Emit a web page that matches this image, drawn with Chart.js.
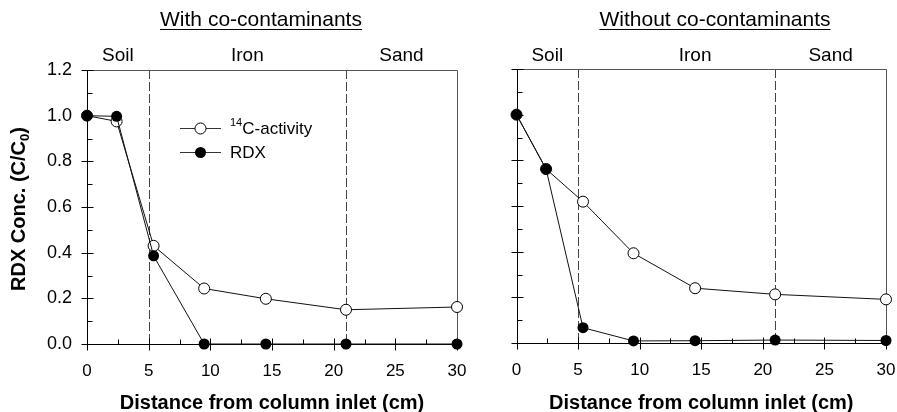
<!DOCTYPE html>
<html>
<head>
<meta charset="utf-8">
<script src="https://cdn.jsdelivr.net/npm/chart.js@4.4.0/dist/chart.umd.min.js"></script>
<style>
  body { margin: 0; background: #fff; }
  #wrap { position: relative; width: 897px; height: 412px; }
  canvas { position: absolute; top: 0; }
</style>
</head>
<body>
<div id="wrap">
  <canvas id="leftChart" width="470" height="412" style="left:0"></canvas>
  <canvas id="rightChart" width="427" height="412" style="left:470px"></canvas>
</div>
<script>
// distances along the column (cm)
const distance = [0, 2.4, 5.4, 9.5, 14.5, 21, 30];

// with co-contaminants
const withC14 = [1.0, 0.975, 0.43, 0.243, 0.198, 0.15, 0.162];
const withRDX = [1.0, 0.997, 0.386, 0, 0, 0, 0];

// without co-contaminants
const withoutC14 = [1.0, 0.762, 0.619, 0.393, 0.24, 0.213, 0.191];
const withoutRDX = [1.0, 0.762, 0.067, 0.009, 0.01, 0.013, 0.011];

// zone boundaries and labels
const boundaries = [5, 21];
const zoneNames = ['Soil', 'Iron', 'Sand'];
const xTicks = [0, 5, 10, 15, 20, 25, 30];
const yTicks = [0, 0.2, 0.4, 0.6, 0.8, 1.0, 1.2];

const FONT = '"Liberation Sans", Arial, sans-serif';

function pts(ys) {
  return distance.map((d, i) => ({ x: d, y: ys[i] }));
}

// frame, ticks, dashed zone lines, texts
function decor(opts) {
  return {
    id: 'decor',
    beforeDatasetsDraw(chart) {
      const ctx = chart.ctx;
      const a = chart.chartArea;
      const xs = chart.scales.x, ys = chart.scales.y;
      ctx.save();
      // dashed zone boundaries
      ctx.strokeStyle = '#444';
      ctx.lineWidth = 1;
      ctx.setLineDash([9, 3]);
      boundaries.forEach(b => {
        const px = Math.round(xs.getPixelForValue(b)) + 0.5;
        ctx.beginPath();
        ctx.moveTo(px, a.top);
        ctx.lineTo(px, a.bottom);
        ctx.stroke();
      });
      ctx.setLineDash([]);
      // top and right frame
      ctx.strokeStyle = '#555';
      ctx.beginPath();
      ctx.moveTo(Math.round(a.left) + 0.5, Math.round(a.top) + 0.5);
      ctx.lineTo(Math.round(a.right) + 0.5, Math.round(a.top) + 0.5);
      ctx.lineTo(Math.round(a.right) + 0.5, Math.round(a.bottom) + 0.5);
      ctx.stroke();
      // axes
      ctx.strokeStyle = '#000';
      const L = Math.round(a.left) + 0.5, B = Math.round(a.bottom) + 0.5;
      ctx.beginPath();
      ctx.moveTo(L, a.top);
      ctx.lineTo(L, B);
      ctx.lineTo(a.right, B);
      ctx.stroke();
      // x ticks
      ctx.beginPath();
      xTicks.forEach((v, i) => {
        const px = Math.round(xs.getPixelForValue(v)) + 0.5;
        ctx.moveTo(px, B - 6); ctx.lineTo(px, B + 6);
        if (i < xTicks.length - 1) {
          const mx = Math.round(xs.getPixelForValue(v + 2.5)) + 0.5;
          ctx.moveTo(mx, B); ctx.lineTo(mx, B - 5);
        }
      });
      // y ticks
      yTicks.forEach((v, i) => {
        const py = Math.round(ys.getPixelForValue(v)) + 0.5;
        ctx.moveTo(L - 6, py); ctx.lineTo(L + 6, py);
        if (i < yTicks.length - 1) {
          const my = Math.round(ys.getPixelForValue(v + 0.1)) + 0.5;
          ctx.moveTo(L, my); ctx.lineTo(L + 5, my);
        }
      });
      ctx.stroke();
      ctx.restore();
    },
    afterDraw(chart) {
      const ctx = chart.ctx;
      const a = chart.chartArea;
      const xs = chart.scales.x;
      ctx.save();
      ctx.fillStyle = '#000';
      ctx.strokeStyle = '#000';
      // panel title, underlined
      ctx.font = '21px ' + FONT;
      ctx.textAlign = 'center';
      ctx.textBaseline = 'alphabetic';
      ctx.fillText(opts.title, opts.titleX, 26);
      const tw = ctx.measureText(opts.title).width;
      ctx.lineWidth = 1;
      ctx.beginPath();
      ctx.moveTo(opts.titleX - tw / 2, 29.5);
      ctx.lineTo(opts.titleX + tw / 2, 29.5);
      ctx.stroke();
      // zone names
      ctx.font = '19px ' + FONT;
      zoneNames.forEach((n, i) => {
        ctx.fillText(n, xs.getPixelForValue(opts.zoneX[i]), 61);
      });
      // x axis title
      ctx.font = 'bold 20px ' + FONT;
      ctx.fillText('Distance from column inlet (cm)', (a.left + a.right) / 2, 409);
      // y axis title
      if (opts.yTitle) {
        ctx.save();
        ctx.translate(25, (a.top + a.bottom) / 2 + 2);
        ctx.rotate(-Math.PI / 2);
        const main = 'RDX Conc. (C/C', sub = '0', end = ')';
        ctx.font = 'bold 20px ' + FONT;
        const w1 = ctx.measureText(main).width, w3 = ctx.measureText(end).width;
        ctx.font = 'bold 13px ' + FONT;
        const w2 = ctx.measureText(sub).width;
        let x0 = -(w1 + w2 + w3) / 2;
        ctx.textAlign = 'left';
        ctx.font = 'bold 20px ' + FONT;
        ctx.fillText(main, x0, 0);
        ctx.font = 'bold 13px ' + FONT;
        ctx.fillText(sub, x0 + w1, 4);
        ctx.font = 'bold 20px ' + FONT;
        ctx.fillText(end, x0 + w1 + w2, 0);
        ctx.restore();
      }
      // legend
      if (opts.legend) {
        const lx = 180, rows = [128, 152];
        ctx.lineWidth = 1;
        ctx.textAlign = 'left';
        ctx.textBaseline = 'middle';
        rows.forEach((ry, i) => {
          ctx.strokeStyle = '#333';
          ctx.beginPath();
          ctx.moveTo(lx, ry + 0.5); ctx.lineTo(lx + 41, ry + 0.5);
          ctx.stroke();
          ctx.beginPath();
          ctx.arc(lx + 20.5, ry + 0.5, 5.5, 0, Math.PI * 2);
          if (i === 0) {
            ctx.fillStyle = '#fff'; ctx.fill();
            ctx.strokeStyle = '#000'; ctx.stroke();
          } else {
            ctx.fillStyle = '#000'; ctx.fill();
          }
        });
        ctx.fillStyle = '#000';
        ctx.font = '11px ' + FONT;
        ctx.fillText('14', 230, rows[0] - 5);
        const sw = ctx.measureText('14').width;
        ctx.font = '17px ' + FONT;
        ctx.fillText('C-activity', 230 + sw, rows[0] + 1);
        ctx.fillText('RDX', 230, rows[1] + 1);
      }
      ctx.restore();
    }
  };
}

function makeChart(id, c14, rdx, opts) {
  const data = {
    datasets: [{
      label: '14C-activity',
      data: pts(c14),
      showLine: true,
      borderColor: '#111',
      borderWidth: 1,
      pointRadius: 5.5,
      pointBackgroundColor: '#fff',
      pointBorderColor: '#000',
      pointBorderWidth: 1,
      clip: false,
      order: 2
    }, {
      label: 'RDX',
      data: pts(rdx),
      showLine: true,
      borderColor: '#111',
      borderWidth: 1,
      pointRadius: 5.5,
      pointBackgroundColor: '#000',
      pointBorderColor: '#000',
      pointBorderWidth: 0,
      clip: false,
      order: 1
    }]
  };
  const config = {
    type: 'scatter',
    data: data,
    options: {
      responsive: false,
      animation: false,
      devicePixelRatio: 1,
      layout: { padding: { top: opts.top, right: opts.right, left: 0, bottom: 0 } },
      plugins: { legend: { display: false }, tooltip: { enabled: false } },
      scales: {
        x: {
          type: 'linear', min: 0, max: 30,
          grid: { display: false, drawTicks: false },
          border: { display: false },
          ticks: { stepSize: 5, padding: 17, color: '#000', font: { family: FONT, size: 17 } },
          afterFit: s => { s.height = opts.xHeight; s.paddingLeft = 0; s.paddingRight = 0; }
        },
        y: {
          type: 'linear', min: 0, max: 1.2,
          grid: { display: false, drawTicks: false },
          border: { display: false },
          ticks: {
            stepSize: 0.2, padding: 15, color: '#000', display: opts.yLabels,
            font: { family: FONT, size: 18 },
            callback: v => v.toFixed(1)
          },
          afterFit: s => { s.width = opts.yWidth; s.paddingTop = 0; s.paddingBottom = 0; }
        }
      }
    },
    plugins: [decor(opts)]
  };
  return new Chart(document.getElementById(id), config);
}

makeChart('leftChart', withC14, withRDX, {
  top: 70, right: 13, yWidth: 87, xHeight: 68, yLabels: true,
  title: 'With co-contaminants', titleX: 261, zoneX: [2.5, 13, 25.5],
  yTitle: true, legend: true
});
makeChart('rightChart', withoutC14, withoutRDX, {
  top: 69, right: 11, yWidth: 46.5, xHeight: 69, yLabels: false,
  title: 'Without co-contaminants', titleX: 245, zoneX: [2.5, 14.5, 25.5],
  yTitle: false, legend: false
});
</script>
</body>
</html>
